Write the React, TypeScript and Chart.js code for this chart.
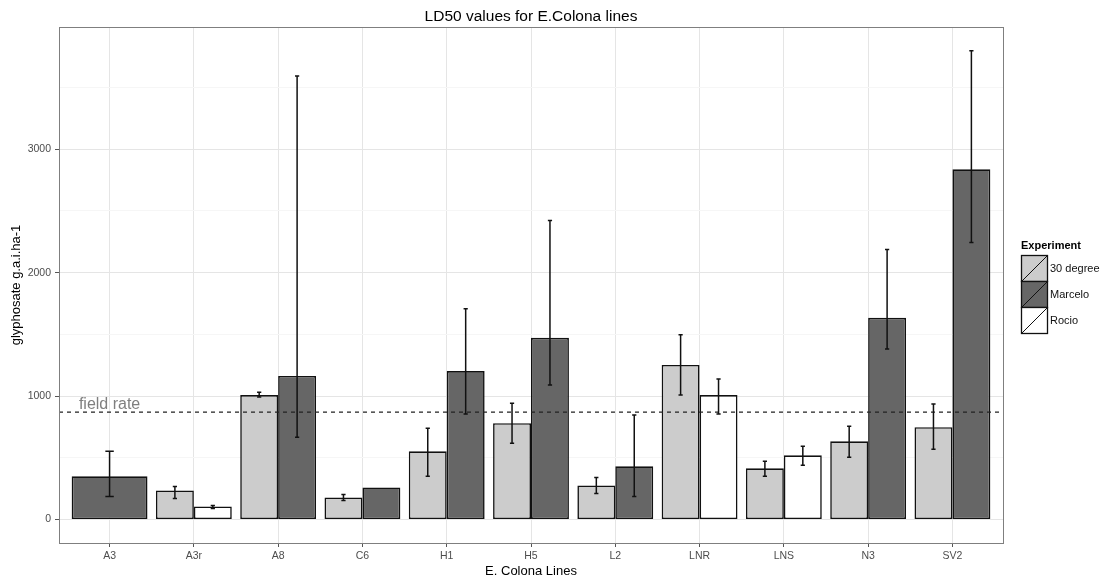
import React, { useEffect, useRef } from "react";
import { Chart, registerables } from "chart.js";

Chart.register(...registerables);

// ---------- data ----------
const categories = ["A3", "A3r", "A8", "C6", "H1", "H5", "L2", "LNR", "LNS", "N3", "SV2"];
const seriesNames = ["30 degree", "Marcelo", "Rocio"];
const seriesColors = ["#cccccc", "#666666", "#ffffff"];

const deg30Values = [null, 236, 1008, 179, 553, 780, 276, 1252, 415, 634, 748];
const deg30Low = [null, 171, 992, 154, 350, 618, 211, 1008, 350, 504, 569];
const deg30High = [null, 268, 1032, 203, 740, 943, 341, 1496, 472, 756, 935];

const marceloValues = [350, null, 1163, 260, 1203, 1472, 431, null, null, 1634, 2837];
const marceloLow = [187, null, 667, null, 854, 1089, 187, null, null, 1382, 2244];
const marceloHigh = [553, null, 3593, null, 1707, 2423, 846, null, null, 2187, 3797];

const rocioValues = [null, 106, null, null, null, null, null, 1008, 520, null, null];
const rocioLow = [null, 89, null, null, null, null, null, 854, 439, null, null];
const rocioHigh = [null, 114, null, null, null, null, null, 1138, 593, null, null];

const yTickValues = [0, 500, 1000, 1500, 2000, 2500, 3000, 3500];
const yMin = -190;
const yMax = 3990;

const fieldRate = 870;
const fieldRateLabel = "field rate";
const fieldRateLabelY = 935;
const fieldRateLabelCategory = 0;

const chartTitle = "LD50 values for E.Colona lines";
const xTitle = "E. Colona Lines";
const yTitle = "glyphosate g.a.i.ha-1";
const legendTitle = "Experiment";

const seriesValues = [deg30Values, marceloValues, rocioValues];
const seriesLow = [deg30Low, marceloLow, rocioLow];
const seriesHigh = [deg30High, marceloHigh, rocioHigh];

const FONT = "'Liberation Sans', Arial, Helvetica, sans-serif";

const customPlugin = {
  id: "ggExtras",
  afterDatasetsDraw(chart: any) {
    const ctx = chart.ctx;
    const ys = chart.scales.y;
    const xs = chart.scales.x;
    const area = chart.chartArea;
    ctx.save();
    ctx.beginPath();
    ctx.rect(area.left, area.top, area.right - area.left, area.bottom - area.top);
    ctx.clip();

    // field rate line
    const fy = ys.getPixelForValue(fieldRate);
    ctx.setLineDash([4, 4]);
    ctx.strokeStyle = "#222222";
    ctx.lineWidth = 1.2;
    ctx.beginPath();
    ctx.moveTo(area.left, fy);
    ctx.lineTo(area.right, fy);
    ctx.stroke();
    ctx.setLineDash([]);

    // error bars
    ctx.strokeStyle = "#111111";
    ctx.lineWidth = 1.5;
    chart.data.datasets.forEach((ds: any, di: number) => {
      const meta = chart.getDatasetMeta(di);
      const lows = seriesLow[di];
      const highs = seriesHigh[di];
      meta.data.forEach((el: any, i: number) => {
        if (ds.data[i] == null || lows[i] == null || highs[i] == null) return;
        const { x, width } = el.getProps(["x", "width"], true);
        const half = width / 18;
        const yl = ys.getPixelForValue(lows[i] as number);
        const yh = ys.getPixelForValue(highs[i] as number);
        ctx.beginPath();
        ctx.moveTo(x, yh);
        ctx.lineTo(x, yl);
        ctx.moveTo(x - half, yh);
        ctx.lineTo(x + half, yh);
        ctx.moveTo(x - half, yl);
        ctx.lineTo(x + half, yl);
        ctx.stroke();
      });
    });

    // field rate label
    ctx.fillStyle = "#7f7f7f";
    ctx.font = `16px ${FONT}`;
    ctx.textAlign = "center";
    ctx.textBaseline = "middle";
    ctx.fillText(
      fieldRateLabel,
      xs.getPixelForValue(fieldRateLabelCategory),
      ys.getPixelForValue(fieldRateLabelY)
    );
    ctx.restore();
  },
  afterDraw(chart: any) {
    const ctx = chart.ctx;
    const area = chart.chartArea;
    ctx.save();
    // panel border
    ctx.strokeStyle = "#7f7f7f";
    ctx.lineWidth = 1;
    ctx.strokeRect(
      Math.round(area.left) + 0.5,
      Math.round(area.top) + 0.5,
      Math.round(area.right - area.left),
      Math.round(area.bottom - area.top)
    );

    // title
    ctx.fillStyle = "#000000";
    ctx.font = `15.5px ${FONT}`;
    ctx.textAlign = "center";
    ctx.textBaseline = "middle";
    ctx.fillText(chartTitle, (area.left + area.right) / 2, 17);

    // legend
    const lx = area.right + 18;
    const boxW = 26;
    const boxH = 26;
    const top = 255;
    ctx.font = `bold 11px ${FONT}`;
    ctx.textAlign = "left";
    ctx.fillStyle = "#000000";
    ctx.fillText(legendTitle, lx, top - 9);
    chart.data.datasets.forEach((ds: any, i: number) => {
      const by = top + i * boxH;
      ctx.fillStyle = ds.backgroundColor;
      ctx.fillRect(lx, by, boxW, boxH);
      ctx.strokeStyle = "#111111";
      ctx.lineWidth = 1.3;
      ctx.strokeRect(lx + 0.5, by + 0.5, boxW, boxH);
      ctx.lineWidth = 1;
      ctx.beginPath();
      ctx.moveTo(lx + 1, by + boxH);
      ctx.lineTo(lx + boxW, by + 1);
      ctx.stroke();
      ctx.fillStyle = "#111111";
      ctx.font = `11px ${FONT}`;
      ctx.fillText(ds.label, lx + boxW + 3, by + boxH / 2 + 1);
    });
    ctx.restore();
  },
};

export default function App() {
  const canvasRef = useRef<HTMLCanvasElement | null>(null);

  useEffect(() => {
    const canvas = canvasRef.current;
    if (!canvas) return;
    const chart = new Chart(canvas, {
      type: "bar",
      data: {
        labels: categories,
        datasets: seriesNames.map((name, i) => ({
          label: name,
          data: seriesValues[i],
          backgroundColor: seriesColors[i],
          borderColor: "#111111",
          borderWidth: 1.6,
          borderSkipped: false,
          categoryPercentage: 0.9,
          barPercentage: 1.0,
          skipNull: true,
        })),
      },
      options: {
        animation: false,
        responsive: true,
        maintainAspectRatio: false,
        layout: { padding: { top: 27, right: 102, left: 0, bottom: 0 } },
        plugins: {
          legend: { display: false },
          title: { display: false },
          tooltip: { enabled: false },
        },
        scales: {
          x: {
            type: "category",
            offset: true,
            afterBuildTicks: (s: any) => {
              s._startValue = -0.6;
              s._valueRange = categories.length - 1 + 1.2;
            },
            afterFit: (s: any) => {
              s.height = 39;
            },
            border: { display: false },
            grid: {
              offset: false,
              color: "#e5e5e5",
              lineWidth: 1,
              tickColor: "#555555",
              tickLength: 4,
            },
            ticks: {
              autoSkip: false,
              maxRotation: 0,
              color: "#4d4d4d",
              padding: 3,
              font: { family: FONT, size: 10.5 },
            },
            title: {
              display: true,
              text: xTitle,
              color: "#000000",
              font: { family: FONT, size: 13 },
              padding: { top: 0, bottom: 3 },
            },
          },
          y: {
            type: "linear",
            min: yMin,
            max: yMax,
            afterBuildTicks: (s: any) => {
              s.ticks = yTickValues.map((v) => ({ value: v }));
            },
            afterFit: (s: any) => {
              s.width = 59;
            },
            border: { display: false },
            grid: {
              color: (c: any) => (c.tick && c.tick.value % 1000 === 0 ? "#e5e5e5" : "#f6f6f6"),
              tickColor: (c: any) => (c.tick && c.tick.value % 1000 === 0 ? "#555555" : "rgba(0,0,0,0)"),
              tickLength: 4,
              lineWidth: 1,
            },
            ticks: {
              autoSkip: false,
              color: "#4d4d4d",
              padding: 4,
              font: { family: FONT, size: 10.5 },
              callback: (v: any) => (Number(v) % 1000 === 0 ? String(v) : ""),
            },
            title: {
              display: true,
              text: yTitle,
              color: "#000000",
              font: { family: FONT, size: 13 },
              padding: { top: 9, bottom: 0 },
            },
          },
        },
      },
      plugins: [customPlugin],
    } as any);
    return () => chart.destroy();
  }, []);

  return (
    <div style={{ position: "absolute", left: 0, top: 0, width: 1105, height: 582, background: "#ffffff" }}>
      <canvas ref={canvasRef} />
    </div>
  );
}
